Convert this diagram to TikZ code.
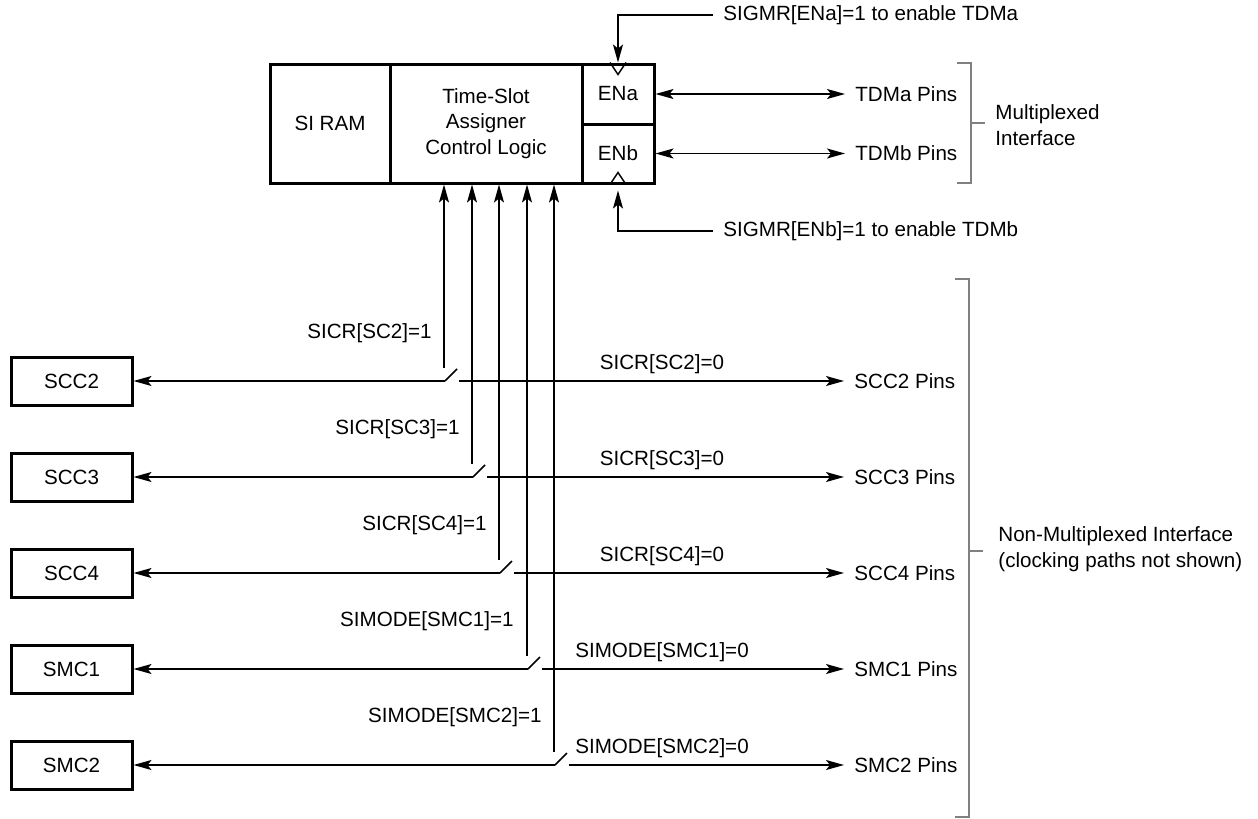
\documentclass[tikz,border=0pt]{standalone}
\usepackage{fontspec}
\setmainfont{Liberation Sans}
\usetikzlibrary{arrows.meta}

\begin{document}
\begin{tikzpicture}[x=0.5pt,y=-0.5pt,
  every node/.style={font=\fontsize{10.3pt}{12.8pt}\selectfont},
  >={Stealth[length=9pt,width=5pt,inset=2pt]},
  conn/.style={line width=0.75pt},
  unit/.style={draw,line width=1.5pt,inner sep=0pt},
  periph/.style={unit,minimum width=60.5pt,minimum height=24pt},
  pin/.style={anchor=west,inner sep=5pt},
  cond/.style={inner sep=0pt},
  brace/.style={line width=0.75pt,draw=gray}]
\useasboundingbox (0,0) rectangle (1258,819);

\node[unit,minimum width=60pt,minimum height=59.5pt] (sram) at (330,123.5) {SI RAM};
\node[unit,minimum width=96pt,minimum height=59.5pt,align=center] (tsa) at (486,123.5) {Time-Slot\\Assigner\\Control Logic};
\node[unit,minimum width=36pt,minimum height=30pt] (ena) at (618,94) {ENa};
\node[unit,minimum width=36pt,minimum height=29.5pt] (enb) at (618,153.5) {ENb};
\draw[conn] ([xshift=-4pt]ena.north) -- ([yshift=-6pt]ena.north) -- ([xshift=4pt]ena.north);
\draw[conn] ([xshift=-4pt]enb.south) -- ([yshift=6pt]enb.south) -- ([xshift=4pt]enb.south);

\node[pin] (enatxt) at (713,15) {SIGMR[ENa]=1 to enable TDMa};
\node[pin] (enbtxt) at (713,231) {SIGMR[ENb]=1 to enable TDMb};
\draw[conn,->] (enatxt.west) -| (ena.north);
\draw[conn,->,shorten >=3pt] (enbtxt.west) -| (enb.south);

\node[pin] (tdmapins) at (845,94) {TDMa Pins};
\node[pin] (tdmbpins) at (845,153.5) {TDMb Pins};
\draw[conn,<->] (ena.east) -- (tdmapins.west);
\draw[conn,<->] (enb.east) -- (tdmbpins.west);

\draw[brace] (957,63) -- (971,63) -- (971,183) -- (957,183) (971,123) -- (985,123);
\node[pin,align=left] (muxtxt) at (985,125) {Multiplexed\\Interface};

\node[periph] (scc2) at (71.5,381) {SCC2};
\node[pin] (scc2pins) at (844,381) {SCC2 Pins};
\coordinate (sc2l) at (445,381);
\coordinate (sc2t) at (457,369);
\coordinate (sc2r) at (459,381);
\coordinate (sc2v) at (444,368);
\draw[conn,->] (sc2l) -- (scc2.east);
\draw[conn] (sc2l) -- (sc2t);
\draw[conn,->] (sc2r) -- (scc2pins.west);
\draw[conn,->] (sc2v) -- (sc2v |- tsa.south);
\node[cond,anchor=east] (sc2on) at (432,333) {SICR[SC2]=1};
\node[cond] (sc2off) at (662,364) {SICR[SC2]=0};

\node[periph] (scc3) at (71.5,477) {SCC3};
\node[pin] (scc3pins) at (844,477) {SCC3 Pins};
\coordinate (sc3l) at (473,477);
\coordinate (sc3t) at (485,465);
\coordinate (sc3r) at (487,477);
\coordinate (sc3v) at (472,464);
\draw[conn,->] (sc3l) -- (scc3.east);
\draw[conn] (sc3l) -- (sc3t);
\draw[conn,->] (sc3r) -- (scc3pins.west);
\draw[conn,->] (sc3v) -- (sc3v |- tsa.south);
\node[cond,anchor=east] (sc3on) at (460,429) {SICR[SC3]=1};
\node[cond] (sc3off) at (662,460) {SICR[SC3]=0};

\node[periph] (scc4) at (71.5,573) {SCC4};
\node[pin] (scc4pins) at (844,573) {SCC4 Pins};
\coordinate (sc4l) at (500,573);
\coordinate (sc4t) at (512,561);
\coordinate (sc4r) at (514,573);
\coordinate (sc4v) at (499,560);
\draw[conn,->] (sc4l) -- (scc4.east);
\draw[conn] (sc4l) -- (sc4t);
\draw[conn,->] (sc4r) -- (scc4pins.west);
\draw[conn,->] (sc4v) -- (sc4v |- tsa.south);
\node[cond,anchor=east] (sc4on) at (487,525) {SICR[SC4]=1};
\node[cond] (sc4off) at (662,556) {SICR[SC4]=0};

\node[periph] (smc1) at (71.5,669) {SMC1};
\node[pin] (smc1pins) at (844,669) {SMC1 Pins};
\coordinate (sm1l) at (528,669);
\coordinate (sm1t) at (540,657);
\coordinate (sm1r) at (542,669);
\coordinate (sm1v) at (527,656);
\draw[conn,->] (sm1l) -- (smc1.east);
\draw[conn] (sm1l) -- (sm1t);
\draw[conn,->] (sm1r) -- (smc1pins.west);
\draw[conn,->] (sm1v) -- (sm1v |- tsa.south);
\node[cond,anchor=east] (sm1on) at (514,621) {SIMODE[SMC1]=1};
\node[cond] (sm1off) at (662,652) {SIMODE[SMC1]=0};

\node[periph] (smc2) at (71.5,765) {SMC2};
\node[pin] (smc2pins) at (844,765) {SMC2 Pins};
\coordinate (sm2l) at (555,765);
\coordinate (sm2t) at (567,753);
\coordinate (sm2r) at (569,765);
\coordinate (sm2v) at (554,752);
\draw[conn,->] (sm2l) -- (smc2.east);
\draw[conn] (sm2l) -- (sm2t);
\draw[conn,->] (sm2r) -- (smc2pins.west);
\draw[conn,->] (sm2v) -- (sm2v |- tsa.south);
\node[cond,anchor=east] (sm2on) at (542,717) {SIMODE[SMC2]=1};
\node[cond] (sm2off) at (662,748) {SIMODE[SMC2]=0};

\draw[brace] (955,279) -- (969,279) -- (969,817) -- (955,817) (969,551) -- (983,551);
\node[pin,align=left] (nonmuxtxt) at (988,549) {Non-Multiplexed Interface\\(clocking paths not shown)};
\end{tikzpicture}
\end{document}
